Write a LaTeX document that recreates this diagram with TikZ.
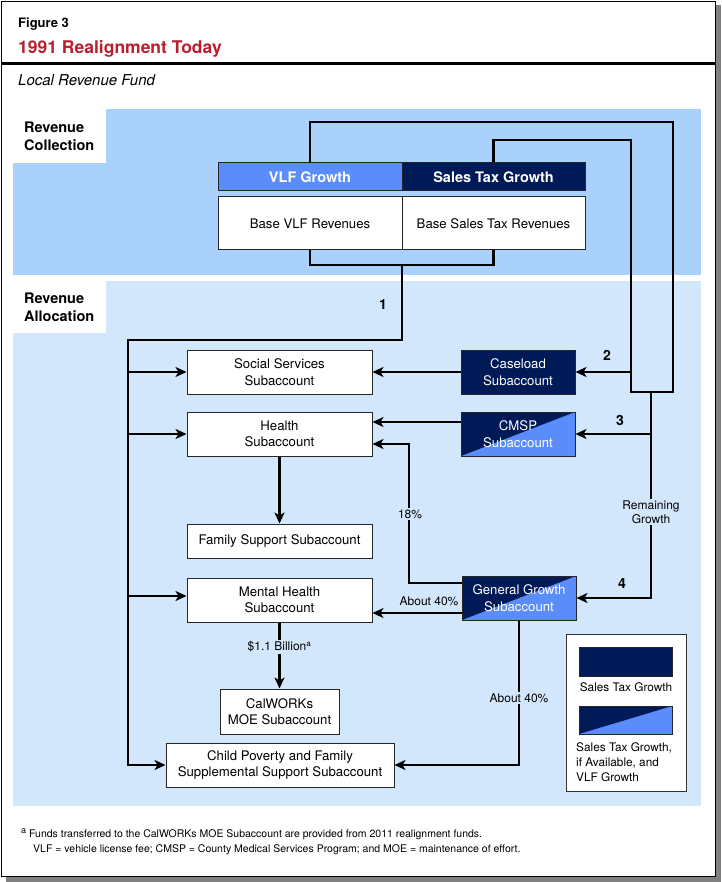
\documentclass[tikz,border=0pt]{standalone}
\usepackage{fontspec}
\setmainfont{TeX Gyre Heros}
\usetikzlibrary{arrows.meta,calc}
\definecolor{navy}{HTML}{001A57}
\definecolor{vblue}{HTML}{5A8CFA}
\definecolor{bandA}{HTML}{A9D1FB}
\definecolor{bandB}{HTML}{D3E7FC}
\definecolor{titlered}{HTML}{B8202F}
\definecolor{shadowgray}{HTML}{808080}
\begin{document}
\begin{tikzpicture}[x=1pt,y=-1pt,
  box/.style={draw=black!85,line width=1pt,fill=white,align=center,inner sep=0pt,font=\fontsize{13.2}{16.5}\selectfont},
  navybox/.style={box,fill=navy,text=white},
  splitbox/.style={box,fill=vblue,text=white,path picture={\fill[navy] (path picture bounding box.north west) -- (path picture bounding box.north east) -- (path picture bounding box.south west) -- cycle;}},
  conn/.style={line width=2.8pt},
  arr/.style={conn,-{Stealth[length=11pt,width=10pt,inset=3pt]}},
  lbl/.style={fill=bandB,inner sep=1.5pt,align=center,font=\fontsize{12}{14.5}\selectfont},
  num/.style={inner sep=0pt,font=\bfseries\fontsize{14}{14}\selectfont},
  txt/.style={inner sep=0pt,anchor=west},
  bandlbl/.style={txt,font=\bfseries\fontsize{14.5}{18}\selectfont,align=left},
  legtxt/.style={inner sep=0pt,font=\fontsize{11.8}{14.8}\selectfont}
]
\useasboundingbox (0,0) rectangle (721,882);
% frame
\fill[shadowgray] (6,5) rectangle (721,882);
\draw[line width=1.3pt,fill=white] (1.5,1.5) rectangle (715.5,876.5);
\draw[line width=3.5pt] (1.5,63.5) -- (715.5,63.5);
\node[txt,font=\bfseries\fontsize{13}{13}\selectfont] (fig) at (18,24) {Figure 3};
\node[txt,text=titlered,font=\bfseries\fontsize{17.5}{17.5}\selectfont] (title) at (18,49) {1991 Realignment Today};
\node[txt,font=\itshape\fontsize{15}{15}\selectfont] (sub) at (18,80) {Local Revenue Fund};
% bands
\fill[bandA] (13,109) rectangle (701,275);
\fill[white] (13,109) rectangle (106,163);
\fill[bandB] (13,281) rectangle (701,806);
\fill[white] (13,281) rectangle (106,333);
\node[bandlbl] (rc) at (24,136.5) {Revenue\\Collection};
\node[bandlbl] (ra) at (24,307) {Revenue\\Allocation};
% top boxes
\node[box,fill=vblue,text=white,font=\bfseries\fontsize{14.5}{14.5}\selectfont,minimum width=184pt,minimum height=28pt] (vlfg) at (310,177) {VLF Growth};
\node[navybox,font=\bfseries\fontsize{14.5}{14.5}\selectfont,minimum width=183pt,minimum height=28pt] (stg) at (493.5,177) {Sales Tax Growth};
\node[box,minimum width=184pt,minimum height=53pt] (bvlf) at (310,223.5) {Base VLF Revenues};
\node[box,minimum width=183pt,minimum height=53pt] (bst) at (493.5,223.5) {Base Sales Tax Revenues};
% allocation boxes
\node[box,minimum width=185pt,minimum height=44pt] (social) at (279.5,372) {Social Services\\Subaccount};
\node[box,minimum width=185pt,minimum height=44pt] (health) at (279.5,434) {Health\\Subaccount};
\node[box,minimum width=185pt,minimum height=34pt] (family) at (279.5,541) {Family Support Subaccount};
\node[box,minimum width=185pt,minimum height=44pt] (mental) at (279.5,600) {Mental Health\\Subaccount};
\node[box,minimum width=119pt,minimum height=45pt] (calw) at (279.5,711.5) {CalWORKs\\MOE Subaccount};
\node[box,minimum width=228pt,minimum height=44pt] (child) at (280,765) {Child Poverty and Family\\Supplemental Support Subaccount};
\node[navybox,minimum width=114pt,minimum height=44pt] (caseload) at (518,372) {Caseload\\Subaccount};
\node[splitbox,minimum width=114pt,minimum height=44pt] (cmsp) at (518,434) {CMSP\\Subaccount};
\node[splitbox,minimum width=114pt,minimum height=44pt] (gg) at (519,598) {General Growth\\Subaccount};
% collection connectors
\coordinate (ra1) at (673,122);
\coordinate (ra2) at (673,392);
\coordinate (ra3) at (631,392);
\coordinate (ra4) at (631,140);
\draw[conn] (vlfg.north) |- (ra1) -- (ra2) -- (ra3) -- (ra4) -| (stg.north);
\coordinate (bj) at (402,265);
\draw[conn] (bvlf.south) |- (bj) -| (bst.south);
% trunk 1
\coordinate (tr1) at (402,340);
\coordinate (tr2) at (128,340);
\coordinate (mw) at ([yshift=4pt]mental.west);
\draw[arr] (bj) -- (tr1) -- (tr2) |- (child.west);
\draw[arr] (tr2 |- social.west) -- (social.west);
\draw[arr] (tr2 |- health.west) -- (health.west);
\draw[arr] (tr2 |- mw) -- (mw);
\node[num] (n1) at (383,305) {1};
% 2
\coordinate (ca) at (631,372);
\draw[arr] (ca) -- (caseload.east);
\draw[arr] (caseload.west) -- (social.east);
\node[num] (n2) at (607,355) {2};
% 3 and 4
\coordinate (rg) at (651,392);
\draw[arr] (rg) |- (gg.east);
\draw[arr] (rg |- cmsp.east) -- (cmsp.east);
\node[num] (n3) at (620,420) {3};
\node[num] (n4) at (622,584) {4};
\node[lbl] (remg) at (651,512) {Remaining\\Growth};
\draw[arr] ([yshift=12pt]cmsp.west) -- ([yshift=12pt]health.east);
% 18%
\coordinate (e1) at (409,583);
\draw[arr] ([yshift=15pt]gg.west) -- (e1) |- ([yshift=-10pt]health.east);
\node[lbl] (p18) at (410,514) {18\%};
% about 40% to mental
\coordinate (gw2) at ([yshift=-15pt]gg.west);
\draw[arr] (gw2) -- (gw2 -| mental.east);
\node[lbl,fill=none] (a40a) at (429,601) {About 40\%};
% about 40% to child
\draw[arr] (gg.south) |- (child.east);
\node[lbl] (a40b) at (519,698) {About 40\%};
% vertical flows
\draw[arr] (health.south) -- (family.north);
\draw[arr] (mental.south) -- (calw.north);
\node[lbl] (bil) at (279.5,647) {\$1.1 Billion\textsuperscript{a}};
% legend
\node[draw=black!80,line width=0.8pt,fill=white,minimum width=120pt,minimum height=157pt,inner sep=0pt] (leg) at (626,712.5) {};
\node[navybox,minimum width=93pt,minimum height=29pt] (sw1) at (625.5,661.5) {};
\node[legtxt] (lt1) at (626,687) {Sales Tax Growth};
\node[splitbox,minimum width=93pt,minimum height=28pt] (sw2) at (625.5,720) {};
\node[legtxt,anchor=west,align=left] (lt2) at (576,762) {Sales Tax Growth,\\if Available, and\\VLF Growth};
% footnote
\node[txt,font=\fontsize{10.5}{12}\selectfont] (fn1) at (21,834) {\raisebox{3.5pt}{\fontsize{9}{9}\selectfont a} Funds transferred to the CalWORKs MOE Subaccount are provided from 2011 realignment funds.};
\node[txt,font=\fontsize{10.5}{12}\selectfont] (fn2) at (33,850) {VLF = vehicle license fee; CMSP = County Medical Services Program; and MOE = maintenance of effort.};
\end{tikzpicture}
\end{document}
